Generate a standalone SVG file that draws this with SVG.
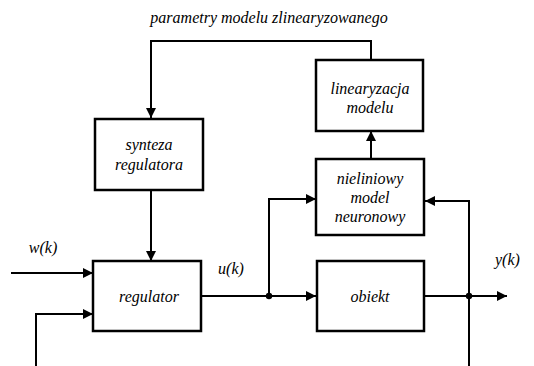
<svg xmlns="http://www.w3.org/2000/svg" width="534" height="366" viewBox="0 0 534 366">
<style>
.box{fill:#fff;stroke:#000;stroke-width:2.5}
.ln{fill:none;stroke:#000;stroke-width:2}
.c{text-anchor:middle}
</style>
<defs>
<marker id="ah" viewBox="0 0 10 10" refX="10" refY="5" markerWidth="10" markerHeight="10" markerUnits="userSpaceOnUse" orient="auto">
<path d="M0,0 L10,5 L0,10 z" fill="#000"/>
</marker>
</defs>
<rect width="534" height="366" fill="#fff"/>
<g id="connectors">
<path class="ln" d="M371,60 V41 H151 V118" marker-end="url(#ah)"/>
<path class="ln" d="M371,159 V131" marker-end="url(#ah)"/>
<path class="ln" d="M151,190 V261" marker-end="url(#ah)"/>
<path class="ln" d="M11,273 H93" marker-end="url(#ah)"/>
<path class="ln" d="M36,366 V314 H93" marker-end="url(#ah)"/>
<path class="ln" d="M201,296 H316" marker-end="url(#ah)"/>
<path class="ln" d="M269,296 V199 H316" marker-end="url(#ah)"/>
<path class="ln" d="M424,296 H507" marker-end="url(#ah)"/>
<path class="ln" d="M469,366 V201 H425" marker-end="url(#ah)"/>
<circle cx="269" cy="296" r="3.2" fill="#000"/>
<circle cx="469" cy="296" r="3.2" fill="#000"/>
</g>
<g font-family="Liberation Serif, Times New Roman, serif" font-style="italic" font-size="16" fill="#000">
<g id="linearyzacja">
<rect class="box" x="316" y="60" width="107" height="71"/>
<text class="c" x="370" y="94">linearyzacja</text>
<text class="c" x="370" y="113">modelu</text>
</g>
<g id="synteza">
<rect class="box" x="95" y="119" width="108" height="71"/>
<text class="c" x="149" y="150">synteza</text>
<text class="c" x="149" y="170">regulatora</text>
</g>
<g id="nieliniowy">
<rect class="box" x="316" y="159" width="108" height="76"/>
<text class="c" x="370" y="184">nieliniowy</text>
<text class="c" x="370" y="203">model</text>
<text class="c" x="370" y="222">neuronowy</text>
</g>
<g id="regulator">
<rect class="box" x="93" y="261" width="108" height="70"/>
<text class="c" x="149" y="302">regulator</text>
</g>
<g id="obiekt">
<rect class="box" x="317" y="261" width="107" height="70"/>
<text class="c" x="370" y="302">obiekt</text>
</g>
<g id="labels">
<text class="c" x="269" y="23">parametry modelu zlinearyzowanego</text>
<text class="c" x="43" y="253">w(k)</text>
<text class="c" x="231" y="274">u(k)</text>
<text x="495" y="265">y(k)</text>
</g>
</g>
</svg>
